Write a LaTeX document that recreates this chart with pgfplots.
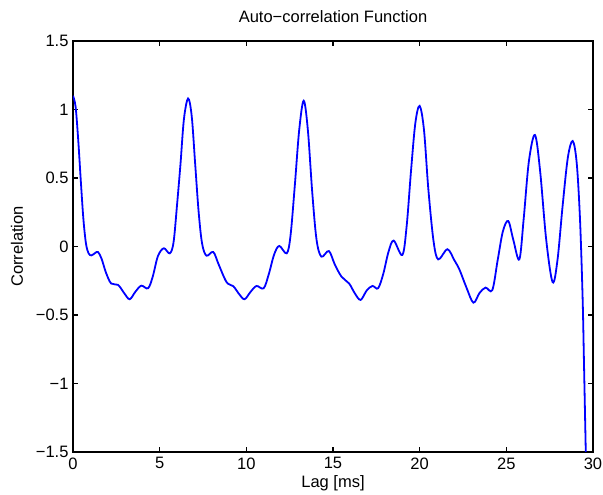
\documentclass[border=0pt]{standalone}
\usepackage{fontspec}
\setmainfont{Liberation Sans}
\usepackage{pgfplots}
\pgfplotsset{compat=1.18}
\begin{document}
\begin{tikzpicture}[x=1pt,y=1pt]
\useasboundingbox (-73,-43) rectangle (530,452);
\begin{axis}[at={(0,0)}, anchor=south west, width=520pt, height=411pt, scale only axis,
  xmin=0, xmax=30, ymin=-1.5, ymax=1.5,
  xtick={0,5,10,15,20,25,30}, ytick={-1.5,-1,-0.5,0,0.5,1,1.5},
  yticklabels={−1.5,−1,−0.5,0,0.5,1,1.5},
  tick align=inside, major tick length=5pt,
  axis line style={line width=1.2pt},
  every tick/.style={black, line width=1.2pt},
  /pgf/number format/assume math mode=true,
  ticklabel style={font=\fontsize{16.5}{19}\selectfont},
  xticklabel style={yshift=-2pt},
  yticklabel style={xshift=-1pt},
  xlabel={Lag [ms]}, ylabel={Correlation}, title={Auto−correlation Function},
  label style={font=\fontsize{16.5}{19}\selectfont},
  xlabel style={at={(axis description cs:0.5,-0.0754)}, anchor=center},
  ylabel style={at={(axis description cs:-0.1077,0.5)}, anchor=center},
  title style={font=\fontsize{16.5}{19}\selectfont, at={(axis description cs:0.5,1)}, anchor=center, yshift=18pt},
  clip=true]
\addplot[blue, line width=1.8pt, smooth, tension=0.55] coordinates {
(0,1.10) (0.15,1.02) (0.3,0.78) (0.45,0.48) (0.6,0.2) (0.75,0.02) (0.9,-0.05) (1.06,-0.065)
(1.25,-0.05) (1.44,-0.04) (1.65,-0.09) (1.9,-0.19) (2.2,-0.27) (2.6,-0.28) (2.95,-0.34)
(3.27,-0.385) (3.6,-0.33) (3.94,-0.286) (4.33,-0.305) (4.6,-0.22) (4.9,-0.07) (5.24,-0.013)
(5.58,-0.05) (5.8,0.03) (6.0,0.3) (6.2,0.6) (6.4,0.93) (6.64,1.08) (6.85,0.95) (7.05,0.6)
(7.25,0.25) (7.45,0.02) (7.7,-0.067) (8.09,-0.04) (8.4,-0.13) (8.86,-0.26) (9.25,-0.29)
(9.6,-0.35) (9.9,-0.385) (10.25,-0.33) (10.59,-0.288) (11.0,-0.305) (11.3,-0.2) (11.6,-0.06)
(11.9,0.004) (12.33,-0.05) (12.55,0.08) (12.8,0.45) (13.05,0.85) (13.31,1.064) (13.55,0.85)
(13.8,0.4) (14.05,0.05) (14.33,-0.074) (14.76,-0.033) (15.1,-0.13) (15.49,-0.22) (15.93,-0.27)
(16.25,-0.34) (16.59,-0.39) (16.95,-0.32) (17.28,-0.288) (17.6,-0.305) (17.9,-0.2)
(18.2,-0.04) (18.5,0.043) (19.0,-0.062) (19.25,0.15) (19.5,0.55) (19.75,0.9) (20.0,1.026)
(20.25,0.85) (20.5,0.42) (20.8,0.04) (21.07,-0.094) (21.6,-0.02) (22.0,-0.1) (22.3,-0.17)
(22.7,-0.3) (23.1,-0.41) (23.45,-0.34) (23.8,-0.30) (24.19,-0.318) (24.5,-0.1) (24.8,0.11)
(25.11,0.186) (25.4,0.05) (25.75,-0.094) (26.0,0.2) (26.3,0.62) (26.65,0.814) (26.95,0.55)
(27.3,0.05) (27.67,-0.26) (27.95,-0.1) (28.25,0.3) (28.55,0.65) (28.83,0.77) (29.06,0.61)
(29.25,0.2) (29.4,-0.37) (29.48,-0.85) (29.6,-1.6) (29.7,-2.2)
};
\end{axis}
\end{tikzpicture}
\end{document}
